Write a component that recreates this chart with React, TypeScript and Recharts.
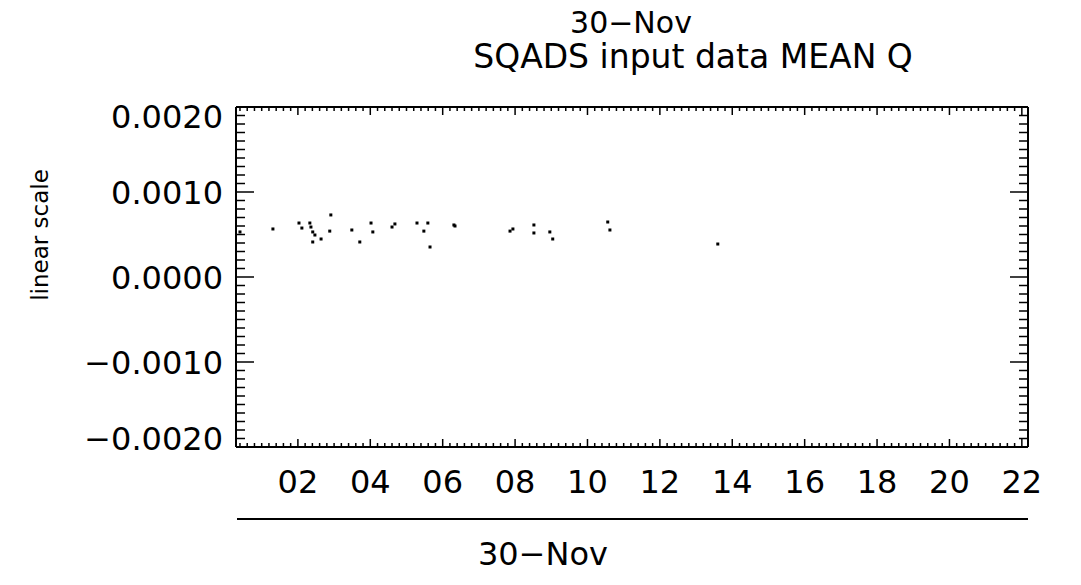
import React from "react";
import { ScatterChart, Scatter, XAxis, YAxis } from "recharts";

// text
const dateLabel = "30\u2212Nov";
const title = "SQADS input data MEAN Q";
const yTitle = "linear scale";

// x axis: hours of the day
const hourTicks = [2, 4, 6, 8, 10, 12, 14, 16, 18, 20, 22];
const hourLabels = ["02", "04", "06", "08", "10", "12", "14", "16", "18", "20", "22"];
const hourDomain = [0.29, 22.17];

// y axis
const valueTicks = [-0.002, -0.001, 0, 0.001, 0.002];
const valueLabels = ["\u22120.0020", "\u22120.0010", "0.0000", "0.0010", "0.0020"];
const valueDomain = [-0.002, 0.002];

// data
const hours = [
  0.4, 1.31, 2.03, 2.11, 2.33, 2.36, 2.41, 2.47, 2.41, 2.64, 2.91, 2.88, 3.49, 3.71,
  4.02, 4.07, 4.6, 4.68, 5.29, 5.48, 5.59, 5.65, 6.31, 6.34, 7.86, 7.94, 8.52, 8.52,
  8.96, 9.04, 10.56, 10.62, 13.6,
];
const meanQ = [
  0.00053, 0.000565, 0.000635, 0.000576, 0.000635, 0.000588, 0.00053, 0.000494,
  0.000412, 0.000447, 0.00073, 0.00054, 0.000553, 0.000412, 0.000635, 0.00053,
  0.000588, 0.000624, 0.000635, 0.00054, 0.000635, 0.000353, 0.000612, 0.0006,
  0.00054, 0.000565, 0.000612, 0.000518, 0.00053, 0.000447, 0.000647, 0.000553,
  0.000388,
];

const points = hours.map((h, i) => ({ h, q: meanQ[i] }));

// minor tick positions (12 min and 0.0001 steps)
const hourAll: number[] = [];
for (let k = 2; k <= 110; k++) {
  hourAll.push(k % 10 === 0 ? hourTicks[k / 10 - 1] : Math.round(k * 20) / 100);
}
const valueAll: number[] = [];
for (let k = -20; k <= 20; k++) {
  valueAll.push(k % 10 === 0 ? valueTicks[k / 10 + 2] : k * 0.0001);
}

const FONT = "DejaVu Sans";
const W = 1065;
const H = 570;
const LW = 1.5;

const BottomTick = (props: any) => {
  const { x, y, payload } = props;
  const i = hourTicks.indexOf(payload.value);
  const major = i >= 0;
  return (
    <g>
      <line x1={x} x2={x} y1={y} y2={y - (major ? 8 : 4)} stroke="#000" strokeWidth={LW} />
      {major && (
        <text x={x} y={y + 46} textAnchor="middle" fontSize={32} fontFamily={FONT} fill="#000">
          {hourLabels[i]}
        </text>
      )}
    </g>
  );
};

const TopTick = (props: any) => {
  const { x, y, payload } = props;
  const major = hourTicks.indexOf(payload.value) >= 0;
  return <line x1={x} x2={x} y1={y} y2={y + (major ? 8 : 4)} stroke="#000" strokeWidth={LW} />;
};

const LeftTick = (props: any) => {
  const { x, y, payload } = props;
  const i = valueTicks.indexOf(payload.value);
  const major = i >= 0;
  const shift = i === valueTicks.length - 1 ? 9 : i === 0 ? -9 : 0;
  return (
    <g>
      <line x1={x} x2={x + (major ? 18 : 9)} y1={y} y2={y} stroke="#000" strokeWidth={LW} />
      {major && (
        <text x={x - 13} y={y + 11.5 + shift} textAnchor="end" fontSize={32} fontFamily={FONT} fill="#000">
          {valueLabels[i]}
        </text>
      )}
    </g>
  );
};

const RightTick = (props: any) => {
  const { x, y, payload } = props;
  const major = valueTicks.indexOf(payload.value) >= 0;
  return <line x1={x} x2={x - (major ? 18 : 9)} y1={y} y2={y} stroke="#000" strokeWidth={LW} />;
};

const Dot = (props: any) => (
  <rect x={props.cx - 1.5} y={props.cy - 1.5} width={3} height={3} fill="#000" />
);

const frame = { stroke: "#000", strokeWidth: 2 };

export default function App() {
  return (
    <div style={{ position: "relative", width: W, height: H }}>
      <ScatterChart width={W} height={H} margin={{ top: 98, right: 44, bottom: 130, left: 227 }}>
        <XAxis xAxisId="b" dataKey="h" type="number" orientation="bottom" height={1}
          domain={hourDomain} allowDataOverflow ticks={hourAll} interval={0} tickSize={0}
          tickMargin={0} axisLine={frame} tickLine={false} tick={<BottomTick />} />
        <XAxis xAxisId="t" dataKey="h" type="number" orientation="top" height={1}
          domain={hourDomain} allowDataOverflow ticks={hourAll} interval={0} tickSize={0}
          tickMargin={0} axisLine={frame} tickLine={false} tick={<TopTick />} />
        <YAxis yAxisId="l" dataKey="q" type="number" orientation="left" width={1}
          domain={valueDomain} allowDataOverflow ticks={valueAll} interval={0} tickSize={0}
          tickMargin={0} axisLine={frame} tickLine={false} tick={<LeftTick />} />
        <YAxis yAxisId="r" dataKey="q" type="number" orientation="right" width={1}
          domain={valueDomain} allowDataOverflow ticks={valueAll} interval={0} tickSize={0}
          tickMargin={0} axisLine={frame} tickLine={false} tick={<RightTick />} />
        <Scatter data={points} dataKey="q" xAxisId="b" yAxisId="l" shape={<Dot />}
          isAnimationActive={false} />
      </ScatterChart>
      <svg width={W} height={H} style={{ position: "absolute", left: 0, top: 0, pointerEvents: "none" }}>
        <g fontFamily={FONT} fill="#000">
          <text x={623} y={25} textAnchor="middle" fontSize={30}>{dateLabel}</text>
          <text x={685} y={60} textAnchor="middle" fontSize={33}>{title}</text>
          <text x={32} y={227} textAnchor="middle" fontSize={23} dominantBaseline="central"
            transform="rotate(-90 32 227)">{yTitle}</text>
          <line x1={229} x2={1020} y1={511} y2={511} stroke="#000" strokeWidth={2} />
          <text x={535} y={557} textAnchor="middle" fontSize={32}>{dateLabel}</text>
        </g>
      </svg>
    </div>
  );
}
